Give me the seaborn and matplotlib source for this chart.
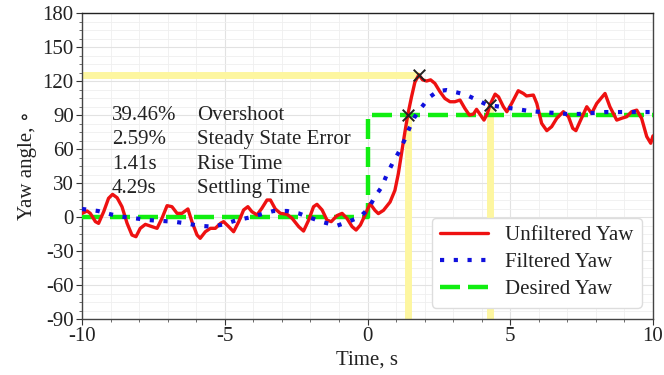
import numpy as np
import pandas as pd
import matplotlib
matplotlib.use("Agg")
import matplotlib.pyplot as plt
from matplotlib.ticker import MultipleLocator, AutoMinorLocator
import seaborn as sns

# Unfiltered yaw response (time in s, yaw in degrees)
t_raw = [-10.0, -9.82, -9.71, -9.53, -9.42, -9.24, -9.07, -8.93, -8.77, -8.6,
         -8.42, -8.25, -8.11, -7.96, -7.78, -7.55, -7.37, -7.2, -7.02, -6.85,
         -6.67, -6.5, -6.29, -6.15, -5.97, -5.86, -5.68, -5.5, -5.33, -5.15,
         -5.04, -4.86, -4.69, -4.51, -4.34, -4.19, -4.05, -3.87, -3.7, -3.52,
         -3.4, -3.23, -3.05, -2.82, -2.64, -2.41, -2.24, -2.06, -1.89, -1.77,
         -1.59, -1.42, -1.27, -1.07, -0.89, -0.72, -0.54, -0.4, -0.25, -0.09,
         0.09, 0.26, 0.38, 0.56, 0.79, 0.96, 1.08, 1.19, 1.31, 1.41, 1.54,
         1.66, 1.8, 1.93, 2.07, 2.21, 2.36, 2.54, 2.71, 2.89, 3.06, 3.24,
         3.41, 3.57, 3.71, 3.82, 3.96, 4.08, 4.2, 4.29, 4.47, 4.59, 4.76,
         4.88, 5.05, 5.28, 5.46, 5.57, 5.81, 5.93, 6.1, 6.28, 6.45, 6.63,
         6.86, 7.04, 7.19, 7.3, 7.44, 7.68, 7.85, 8.03, 8.32, 8.49, 8.73,
         8.9, 9.08, 9.25, 9.43, 9.6, 9.78, 9.92, 10.0]
yaw_raw = [3.2, 5.3, 3.2, -4.1, -5.6, 4.7, 16.5, 20.0, 17.0, 9.1,
           -5.6, -15.9, -17.4, -10.0, -6.5, -8.5, -10.0, -1.2, 10.0, 9.1,
           3.2, 3.2, 7.1, -4.1, -15.9, -18.8, -13.0, -10.0, -10.0, -5.6,
           -4.1, -8.5, -13.0, -4.1, 6.2, 9.1, 4.7, 1.8, 7.7, 15.0,
           15.0, 7.1, 3.2, 2.4, -1.2, -8.5, -12.4, -2.7, 9.1, 11.2,
           6.2, -2.7, -4.1, 1.2, 3.2, -1.2, -8.5, -11.5, -7.1, 1.5,
           11.8, 5.9, 3.0, 5.9, 13.2, 23.5, 38.2, 55.8, 74.9, 90.0, 105.8,
           119.0, 125.5, 121.0, 120.0, 121.0, 117.9, 110.5, 104.6, 101.7, 101.7, 103.2,
           95.8, 89.9, 90.8, 95.0, 89.9, 85.5, 91.4, 99.0, 108.4, 106.0, 97.3,
           92.9, 100.2, 111.4, 109.0, 106.8, 107.6, 100.2, 82.6, 76.2, 79.7, 87.1,
           92.9, 88.5, 78.2, 76.2, 84.1, 97.3, 91.4, 100.2, 109.0, 97.3, 85.5,
           87.1, 88.5, 92.9, 94.3, 87.1, 71.0, 65.1, 71.6]

# Filtered yaw response
t_filt = [-10.0, -9.44, -9.0, -8.6, -8.13, -7.67, -7.2, -6.79, -6.36, -5.91,
          -5.45, -5.04, -4.57, -4.16, -3.72, -3.29, -2.82, -2.41, -1.94, -1.54,
          -1.07, -0.66, -0.25, 0.04, 0.25, 0.5, 0.67, 0.88, 1.1, 1.3, 1.47,
          1.65, 1.9, 2.18, 2.46, 2.77, 3.12, 3.47, 3.86, 4.2, 4.74, 5.2, 5.68,
          6.1, 6.56, 6.98, 7.4, 7.88, 8.35, 8.8, 9.3, 9.72, 10.0]
yaw_filt = [7.1, 5.3, 2.4, 0.3, -1.2, -2.7, -3.5, -4.1, -5.6, -7.7,
            -8.5, -6.5, -2.7, -0.6, 2.4, 5.3, 5.3, 3.2, -1.2, -4.7,
            -7.7, -4.1, 0.3, 7.6, 17.6, 26.5, 37.0, 47.6, 57.4, 68.0, 78.5,
            88.2, 97.0, 105.9, 111.0, 112.0, 110.0, 107.6, 103.0, 98.8, 97.0,
            95.3, 93.5, 92.6, 91.8, 90.9, 90.9, 91.8, 92.6, 92.6, 92.6, 92.6,
            92.6]

# Desired yaw: step from 0 to 90 degrees at t = 0
t_des = [-10, 0, 0, 10]
yaw_des = [0, 0, 90, 90]

# Step-response metrics
metric_values = ["39.46%", "2.59%", "1.41s", "4.29s"]
metric_names = ["Overshoot", "Steady State Error", "Rise Time", "Settling Time"]
peak_time, peak_yaw = 1.8, 125.5
rise_time, rise_yaw = 1.41, 90.0
settle_time, settle_yaw = 4.29, 99.0

sns.set_style("ticks")
serif = ["Liberation Serif", "DejaVu Serif"]
plt.rcParams["font.family"] = serif
plt.rcParams["axes.unicode_minus"] = False
FS = 15

fig = plt.figure(figsize=(6.64, 3.75), dpi=100)
ax = fig.add_axes([82 / 664, 1 - 319 / 375, (653 - 82) / 664, (319 - 13) / 375])

# Metric guide lines
guide = "#fdf6a0"
ax.plot([-10, peak_time], [peak_yaw, peak_yaw], color=guide, lw=5, zorder=1.5,
        solid_capstyle="butt")
ax.plot([rise_time, rise_time], [-90, rise_yaw], color=guide, lw=5, zorder=1.5,
        solid_capstyle="butt")
ax.plot([settle_time, settle_time], [-90, settle_yaw], color=guide, lw=5,
        zorder=1.5, solid_capstyle="butt")

df_raw = pd.DataFrame({"t": t_raw, "yaw": yaw_raw})
df_filt = pd.DataFrame({"t": t_filt, "yaw": yaw_filt})
df_des = pd.DataFrame({"t": t_des, "yaw": yaw_des})

sns.lineplot(data=df_raw, x="t", y="yaw", ax=ax, color="#ee1111", lw=2.4,
             estimator=None, sort=False, label="Unfiltered Yaw", zorder=3,
             solid_joinstyle="round")
sns.lineplot(data=df_filt, x="t", y="yaw", ax=ax, color="#1010dd", lw=3.0,
             linestyle=(0, (1.0, 2.3)), estimator=None, sort=False,
             label="Filtered Yaw", zorder=3.2)
sns.lineplot(data=df_des, x="t", y="yaw", ax=ax, color="#11ee11", lw=3.2,
             linestyle=(0, (4.5, 1.8)), estimator=None, sort=False,
             label="Desired Yaw", zorder=2.8)

# Metric markers
ax.scatter([rise_time, peak_time, settle_time], [rise_yaw, peak_yaw, settle_yaw],
           marker="x", s=70, color="#222222", linewidths=1.4, zorder=4)

# Metric annotations
rows_y = [89.5, 68, 46, 25.5]
for yv, val, name in zip(rows_y, metric_values, metric_names):
    ax.text(-8.95, yv, val, fontsize=FS, va="center", ha="left", color="#222222")
    ax.text(-5.97, yv, name, fontsize=FS, va="center", ha="left", color="#222222")

ax.set_xlim(-10, 10)
ax.set_ylim(-90, 180)
ax.xaxis.set_major_locator(MultipleLocator(5))
ax.xaxis.set_minor_locator(MultipleLocator(1))
ax.yaxis.set_major_locator(MultipleLocator(30))
ax.yaxis.set_minor_locator(AutoMinorLocator(4))
ax.grid(which="major", color="#e2e2e2", lw=0.8)
ax.grid(which="minor", color="#efefef", lw=0.6)
ax.set_axisbelow(True)
ax.tick_params(which="major", labelsize=FS, length=4, width=0.8, colors="#333333",
               labelcolor="#222222", pad=2)
ax.tick_params(which="minor", length=2.5, width=0.6, colors="#555555")
for s in ax.spines.values():
    s.set_color("#444444")
    s.set_linewidth(1.0)
ax.spines["top"].set_color("#222222")

ax.set_xlabel("Time, s", fontsize=FS, color="#222222", labelpad=3)
ax.set_ylabel("Yaw angle, \u2218", fontsize=FS, color="#222222", labelpad=4)

leg = ax.legend(loc="lower right", fontsize=FS, handlelength=2.3,
                labelspacing=0.35, borderpad=0.4, borderaxespad=0.55,
                fancybox=True, framealpha=1.0, edgecolor="#dddddd")
for txt in leg.get_texts():
    txt.set_color("#222222")

fig.savefig("out.png", dpi=100)
